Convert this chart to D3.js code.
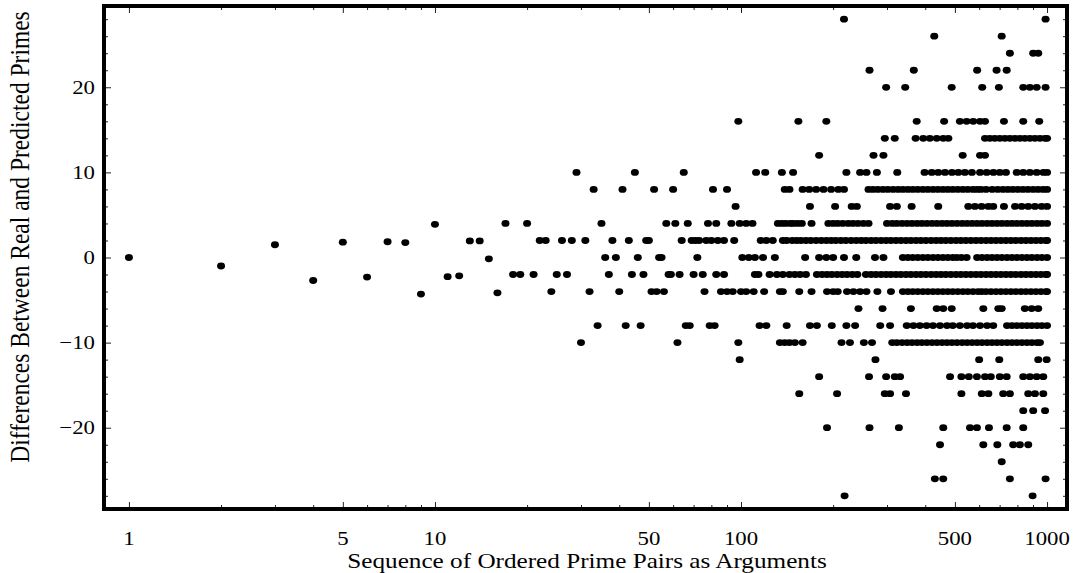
<!DOCTYPE html>
<html lang="en">
<head>
<meta charset="UTF-8">
<title>Differences Between Real and Predicted Primes</title>
<style>
  body { margin: 0; background: #fff; }
  .lbl { font-family: "Liberation Serif", "Times New Roman", serif; fill: #000; }
  .tk line { stroke: #222; stroke-width: 1; }
</style>
<script src="https://cdn.jsdelivr.net/npm/d3@7"></script>
</head>
<body>
<script>
// first arguments, before the differences settle on even values
var firstX = [1, 2, 3, 4, 5, 6, 7, 8, 9, 10, 11, 12, 13, 14, 15, 16];
var firstY = [0, -1.0, 1.5, -2.7, 1.8, -2.3, 1.85, 1.75, -4.3, 3.9, -2.25, -2.15, 1.95, 1.95, -0.15, -4.15];

// after that every point sits on an even difference; x positions read per level
var levels = [28, 26, 24, 22, 20, 16, 14, 12, 10, 8, 6, 4, 2, 0,
              -2, -4, -6, -8, -10, -12, -14, -16, -18, -20, -22, -24, -26, -28];
var xsAtLevel = [
  [217, 989],
  [428, 711],
  [756, 901, 936],
  [263, 367, 591, 684, 738],
  [298, 344, 488, 614, 696, 836, 879, 925, 989],
  [98, 154, 190, 375, 461, 519, 546, 574, 604, 627, 723, 836, 943],
  [295, 318, 372, 394, 414, 436, 458, 476, 627, 650, 675, 701, 728, 756, 785, 815, 846, 879, 913, 948, 985, 1000],
  [180, 271, 292, 530, 604, 627],
  [29, 45, 65, 112, 120, 136, 148, 221, 245, 257, 278, 324, 398, 420, 441, 464, 489, 513, 539, 568, 604, 635, 668, 701, 734, 796, 836, 879, 925, 973, 1000],
  [33, 41, 52, 60, 81, 90, 139, 144, 159, 167, 176, 186, 197, 208, 217, 261, 270, 280, 291, 302, 314, 326, 338, 351, 364, 378, 393, 408, 424, 440, 457, 474, 492, 511, 531, 551, 573, 591, 608, 632, 662, 690, 718, 745, 773, 803, 834, 866, 900, 934, 970, 1000],
  [96, 168, 203, 230, 239, 307, 323, 361, 441, 553, 581, 611, 643, 667, 723, 786, 826, 868, 913, 960, 1000],
  [17, 20, 35, 57, 61, 67, 78, 83, 93, 99, 104, 109, 132, 136, 140, 145, 148, 153, 158, 170, 193, 200, 207, 215, 224, 232, 241, 251, 261, 300, 312, 323, 336, 349, 362, 376, 390, 405, 421, 437, 454, 471, 489, 508, 528, 548, 569, 591, 613, 637, 661, 686, 712, 740, 768, 797, 828, 860, 892, 927, 962, 1000],
  [22, 23, 26, 28, 31, 38, 43, 49, 50, 64, 69, 71, 73, 77, 80, 84, 88, 95, 116, 121, 127, 137, 141, 147, 152, 157, 163, 169, 176, 183, 190, 197, 204, 212, 220, 229, 238, 247, 256, 266, 276, 287, 298, 309, 321, 333, 346, 359, 373, 387, 402, 418, 434, 450, 467, 485, 504, 523, 543, 564, 586, 608, 632, 656, 681, 707, 734, 762, 791, 822, 853, 886, 920, 955, 992, 1000],
  [36, 39, 46, 54, 55, 72, 101, 106, 111, 118, 129, 162, 180, 190, 200, 217, 238, 274, 292, 338, 351, 364, 378, 393, 408, 424, 440, 457, 474, 492, 507, 525, 546, 591, 613, 637, 661, 686, 712, 740, 768, 797, 828, 860, 892, 927, 962, 1000],
  [18, 19, 21, 25, 27, 37, 44, 48, 58, 59, 63, 70, 75, 83, 88, 111, 114, 124, 131, 137, 144, 150, 156, 163, 177, 184, 191, 198, 206, 214, 222, 231, 240, 256, 266, 276, 287, 298, 309, 321, 333, 346, 359, 373, 387, 402, 418, 434, 450, 467, 485, 504, 523, 543, 564, 586, 608, 632, 656, 681, 707, 734, 762, 791, 822, 853, 886, 920, 955, 992, 1000],
  [24, 32, 40, 51, 53, 56, 76, 86, 90, 94, 100, 104, 110, 119, 134, 137, 155, 170, 191, 200, 207, 222, 233, 245, 257, 279, 309, 338, 351, 364, 378, 393, 408, 424, 440, 457, 474, 492, 511, 531, 551, 573, 595, 612, 632, 656, 681, 707, 734, 762, 791, 822, 853, 886, 920, 955, 992, 1000],
  [242, 290, 359, 436, 458, 488, 619, 693, 711, 846, 891, 936],
  [34, 42, 47, 66, 68, 79, 82, 115, 121, 141, 168, 177, 198, 221, 236, 285, 307, 348, 366, 384, 404, 424, 447, 471, 492, 519, 548, 573, 604, 637, 667, 740, 768, 797, 828, 860, 892, 927, 962, 1000],
  [30, 62, 98, 134, 139, 144, 150, 159, 213, 227, 252, 268, 312, 323, 336, 349, 362, 376, 390, 405, 421, 437, 454, 471, 489, 508, 528, 548, 569, 591, 613, 637, 661, 686, 712, 740, 768, 797, 828, 860, 892, 927, 948],
  [99, 275, 600, 698, 936, 997],
  [180, 262, 298, 318, 331, 482, 525, 555, 590, 627, 655, 701, 738, 836, 879, 925, 972],
  [155, 206, 295, 307, 346, 525, 612, 643, 719, 756, 868, 913, 972],
  [836, 901, 985],
  [191, 263, 328, 458, 560, 590, 646, 738, 836],
  [447, 619, 688, 775, 815, 868],
  [711],
  [430, 458, 756, 989],
  [218, 897]
];

var xMajor = [1, 5, 10, 50, 100, 500, 1000];
var xMinor = [2, 3, 4, 6, 7, 8, 9, 20, 30, 40, 60, 70, 80, 90, 200, 300, 400, 600, 700, 800, 900];
var yMajor = [-20, -10, 0, 10, 20];
var yMinor = [-28, -26, -24, -22, -18, -16, -14, -12, -8, -6, -4, -2, 2, 4, 6, 8, 12, 14, 16, 18, 22, 24, 26, 28];

const W = 1077, H = 573;
const box = {left: 104, right: 1067, top: 6, bottom: 509};

var points = firstX.map((d, i) => [d, firstY[i]]);
levels.forEach((lv, i) => xsAtLevel[i].forEach(d => points.push([d, lv])));

const svg = d3.select("body").append("svg")
  .attr("width", W)
  .attr("height", H);

var x = d3.scaleLog().domain([0.829, 1162]).range([box.left, box.right]);
var y = d3.scaleLinear().domain([-29.55, 29.55]).range([box.bottom, box.top]);

// inward ticks on all four sides
function ticks(axis, tx, ty) {
  var g = svg.append("g").attr("class", "tk")
    .attr("transform", "translate(" + tx + "," + ty + ")")
    .call(axis);
  g.select(".domain").remove();
  g.selectAll("text").remove();
}
[[xMajor, 7], [xMinor, 4]].forEach(function (t) {
  ticks(d3.axisBottom(x).tickValues(t[0]).tickSize(-t[1]), 0, box.bottom);
  ticks(d3.axisTop(x).tickValues(t[0]).tickSize(-t[1]), 0, box.top);
});
[[yMajor, 7], [yMinor, 4]].forEach(function (t) {
  ticks(d3.axisLeft(y).tickValues(t[0]).tickSize(-t[1]), box.left, 0);
  ticks(d3.axisRight(y).tickValues(t[0]).tickSize(-t[1]), box.right, 0);
});

// points
svg.append("g").selectAll("ellipse")
  .data(points).enter()
  .append("ellipse")
  .attr("cx", d => x(d[0]))
  .attr("cy", d => y(d[1]))
  .attr("rx", 4)
  .attr("ry", 3.4)
  .attr("fill", "#000");

// frame
svg.append("rect")
  .attr("x", box.left).attr("y", box.top)
  .attr("width", box.right - box.left)
  .attr("height", box.bottom - box.top)
  .attr("fill", "none")
  .attr("stroke", "#000")
  .attr("stroke-width", 4);

// tick labels (the picture is a little wider than tall, so text is stretched)
svg.selectAll(".xl").data(xMajor).enter()
  .append("text").attr("class", "lbl")
  .attr("transform", d => "translate(" + x(d) + ",545) scale(1.2,1)")
  .attr("text-anchor", "middle")
  .style("font-size", "19px")
  .text(d => d);

svg.selectAll(".yl").data(yMajor).enter()
  .append("text").attr("class", "lbl")
  .attr("transform", d => "translate(95," + y(d) + ") scale(1.2,1)")
  .attr("text-anchor", "end")
  .attr("dy", "0.35em")
  .style("font-size", "19px")
  .text(d => d < 0 ? "\u2212" + Math.abs(d) : d);

svg.append("text").attr("class", "lbl")
  .attr("transform", "translate(587,568) scale(1.2,1)")
  .attr("text-anchor", "middle")
  .style("font-size", "21px")
  .text("Sequence of Ordered Prime Pairs as Arguments");

svg.append("text").attr("class", "lbl")
  .attr("transform", "translate(29,237) rotate(-90) scale(1,1.2)")
  .attr("text-anchor", "middle")
  .style("font-size", "23.5px")
  .text("Differences Between Real and Predicted Primes");
</script>
</body>
</html>
